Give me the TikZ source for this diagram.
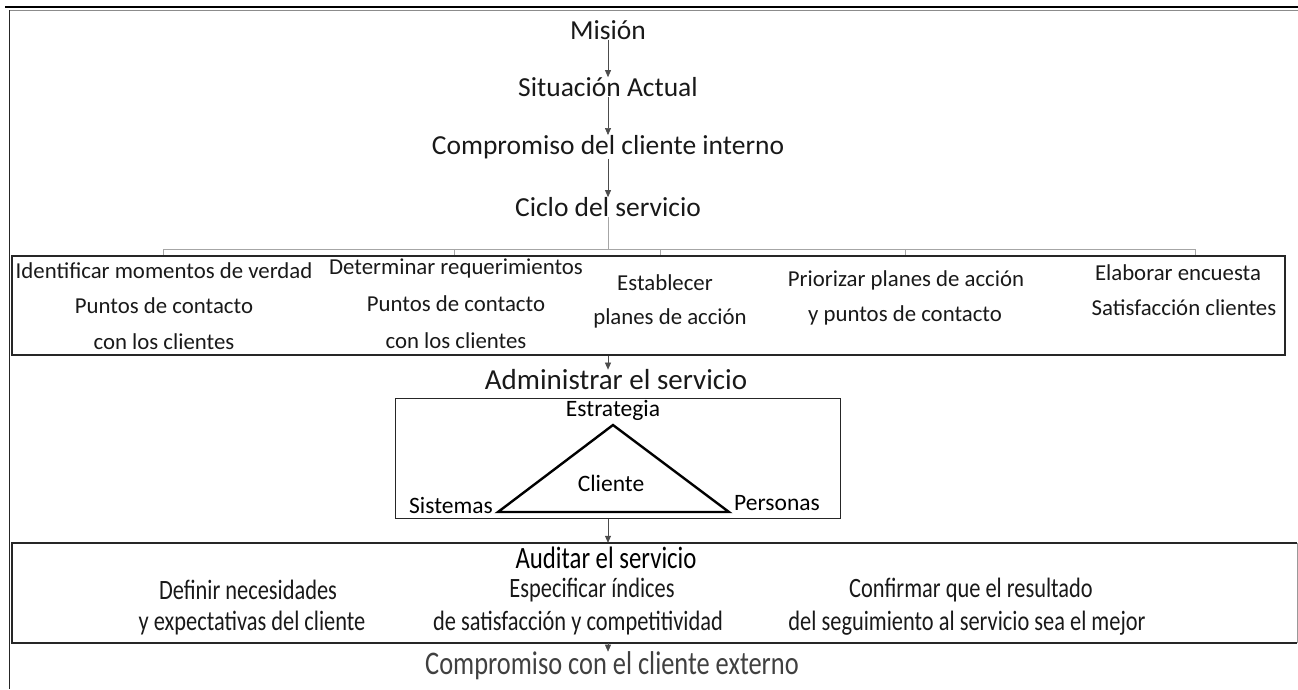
\documentclass[tikz,border=0pt]{standalone}
\usepackage{fontspec}
\setmainfont{Carlito}
\newfontfamily\condfont{Carlito}[FakeStretch=0.8]
\usetikzlibrary{arrows.meta}
\begin{document}
\begin{tikzpicture}[x=1pt,y=-1pt,
  lbl/.style={inner sep=0pt, font=\fontsize{27.5}{32}\selectfont, text=black!90},
  itm/.style={inner sep=0pt, font=\fontsize{22.8}{26}\selectfont, text=black!90},
  tri/.style={inner sep=0pt, font=\fontsize{23.5}{27}\selectfont, text=black},
  cnd/.style={inner sep=0pt, font=\condfont\fontsize{28}{32}\selectfont, text=black!90},
  cndbig/.style={inner sep=0pt, font=\condfont\fontsize{31}{35}\selectfont},
  arr/.style={draw=black!70, line width=0.7pt, -{Triangle[length=7pt,width=6pt]}},
  conn/.style={draw=black!35, line width=0.8pt},
  frame/.style={draw=black!85, line width=1.2pt}]
\useasboundingbox (0,0) rectangle (1298,689);
% outer frame
\draw[black, line width=2pt] (5,7) -- (1298,7);
\draw[black!45, line width=1.2pt] (9,10.5) -- (1298,10.5);
\draw[black!85, line width=1.5pt] (9.5,10) -- (9.5,689);
% top chain
\node[lbl] (mision) at (608,30) {Misión};
\node[lbl] (sit) at (608,87) {Situación Actual};
\node[lbl] (ci) at (608,147) {Compromiso del cliente interno};
\node[lbl] (ciclo) at (608,207) {Ciclo del servicio};
\draw[arr] (mision) -- (sit);
\draw[arr] (sit) -- (ci);
\draw[arr] (ci) -- (ciclo);
% box 1
\node[frame, minimum width=1273pt, minimum height=99pt, inner sep=0pt] (box1) at (648.5,305.5) {};
\coordinate (hl) at (608,249);
\coordinate (t1) at (163,249);
\coordinate (t2) at (454,249);
\coordinate (t3) at (660,249);
\coordinate (t4) at (905,249);
\coordinate (t5) at (1195,249);
\draw[conn] (ciclo) -- (hl);
\draw[conn] (t1) -- (t5);
\foreach \t in {t1,t2,t3,t4,t5} \draw[conn] (\t) -- (\t |- box1.north);
\node[itm] (a1) at (164,271) {Identificar momentos de verdad};
\node[itm] (a2) at (164,306) {Puntos de contacto};
\node[itm] (a3) at (164,342) {con los clientes};
\node[itm] (b1) at (456,268) {Determinar requerimientos};
\node[itm] (b2) at (456,304) {Puntos de contacto};
\node[itm] (b3) at (456,341) {con los clientes};
\node[itm] (c1) at (665,283) {Establecer};
\node[itm] (c2) at (670,318) {planes de acción};
\node[itm] (d1) at (906,280) {Priorizar planes de acción};
\node[itm] (d2) at (905,315) {y puntos de contacto};
\node[itm] (e1) at (1178,273) {Elaborar encuesta};
\node[itm] (e2) at (1184,308) {Satisfacción clientes};
% administrar
\node[lbl, font=\fontsize{29}{33}\selectfont] (adm) at (616,380) {Administrar el servicio};
\draw[arr] (box1.south -| ciclo) -- (ciclo |- adm.north);
\node[draw=black!85, line width=1pt, minimum width=445pt, minimum height=120pt, inner sep=0pt] (admbox) at (617.5,458) {};
\coordinate (ta) at (613,425);
\coordinate (tl) at (498,512);
\coordinate (tr) at (729,512);
\draw[black, line width=2.4pt, line join=miter] (ta) -- (tr) -- (tl) -- cycle;
\node[tri] (est) at (613,410) {Estrategia};
\node[tri] (cli) at (611,483) {Cliente};
\node[tri] (sis) at (451,505) {Sistemas};
\node[tri] (per) at (777,503) {Personas};
% auditar
\node[minimum width=1285pt, minimum height=100pt, inner sep=0pt] (audbox) at (654.5,593) {};
\draw[black!85, line width=1.5pt] (audbox.north east) -- (audbox.north west) -- (audbox.south west) -- (audbox.south east);
\draw[black!40, line width=1pt] (audbox.north east) -- (audbox.south east);
\draw[arr] (admbox.south -| ciclo) -- (ciclo |- audbox.north);
\node[cndbig] (aud) at (606,558) {Auditar el servicio};
\node[cnd] (f1) at (248,590) {Definir necesidades};
\node[cnd] (f2) at (252,623) {y expectativas del cliente};
\node[cnd] (g1) at (592,590) {Especificar índices};
\node[cnd] (g2) at (578,623) {de satisfacción y competitividad};
\node[cnd] (h1) at (971,590) {Confirmar que el resultado};
\node[cnd] (h2) at (967,623) {del seguimiento al servicio sea el mejor};
\node[cndbig, text=black!75, font=\condfont\fontsize{33}{37}\selectfont] (ext) at (612,666) {Compromiso con el cliente externo};
\draw[arr] (audbox.south -| ciclo) -- (ciclo |- ext.north);
\end{tikzpicture}
\end{document}
